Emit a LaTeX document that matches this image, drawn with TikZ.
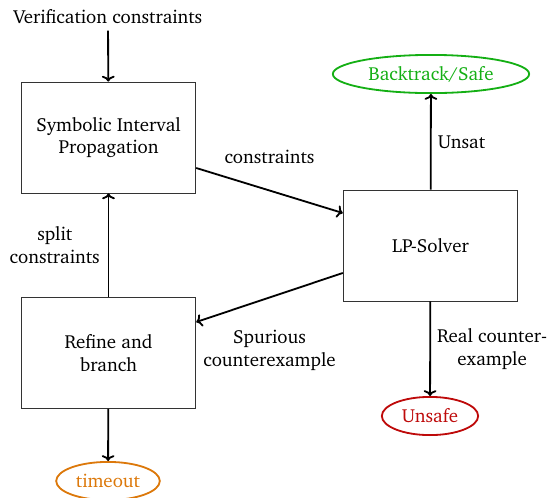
\documentclass[tikz,border=0pt]{standalone}
\usepackage[T1]{fontenc}
\usepackage{charter}
\usetikzlibrary{arrows.meta,shapes.geometric,positioning}

\definecolor{safegreen}{RGB}{20,175,20}
\definecolor{unsafered}{RGB}{190,10,10}
\definecolor{timeorange}{RGB}{220,120,10}

\begin{document}
\begin{tikzpicture}[x=0.55pt, y=-0.55pt, font=\fontsize{10.4}{12.6}\selectfont, >={To[length=3.2pt, width=7pt]},
    box/.style={draw=black!80, line width=0.5pt, minimum width=96pt, minimum height=61pt, align=center},
    result/.style={ellipse, line width=1pt, minimum height=21pt, inner sep=1pt},
    flow/.style={->, line width=1pt}]
  \useasboundingbox (0,0) rectangle (548,498);
  \node (ver) at (108,17) {Verification constraints};
  \node[box] (sip) at (108.5,137.5) {Symbolic Interval\\ Propagation};
  \node[box] (lp) at (430.5,245.5) {LP-Solver};
  \node[box] (ref) at (108.5,353) {Refine and\\ branch};
  \node[result, draw=safegreen, text=safegreen, minimum width=108pt] (safe) at (431,74) {Backtrack/Safe};
  \node[result, draw=unsafered, text=unsafered, minimum width=53pt] (unsafe) at (430,416) {Unsafe};
  \node[result, draw=timeorange, text=timeorange, minimum width=57pt] (tout) at (108,481) {timeout};
  % edges
  \draw[flow] (ver) -- (sip);
  \draw[flow] (ref) -- node[left, align=center, xshift=-1pt] {split\\ constraints} (sip);
  \draw[flow] (sip.east |- 0,168) -- node[above, pos=0.5, yshift=11pt] {constraints} (lp.west |- 0,213);
  \draw[flow] (lp.west |- 0,273) -- node[below, pos=0.5, align=center, yshift=-14pt] {Spurious\\ counterexample} (ref.east |- 0,322);
  \draw[flow] (lp) -- node[right, align=center] {Unsat} (safe);
  \draw[flow] (lp) -- node[right, align=center] {Real counter-\\ example} (unsafe);
  \draw[flow] (ref) -- (tout);
\end{tikzpicture}
\end{document}
